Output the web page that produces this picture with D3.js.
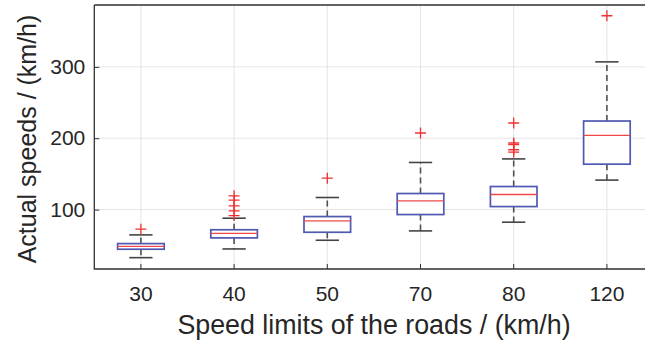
<!DOCTYPE html>
<html>
<head>
<meta charset="utf-8">
<script src="https://cdn.jsdelivr.net/npm/d3@7"></script>
<style>
  html, body { margin: 0; padding: 0; background: #fff; overflow: hidden; }
  svg { display: block; font-family: "Liberation Sans", Arial, Helvetica, sans-serif; }
</style>
</head>
<body>
<svg id="chart" width="645" height="341"></svg>
<script>
// Speed limit groups (km/h)
const categories = ["30", "40", "50", "70", "80", "120"];
// Box statistics of the actual speeds (km/h) per group
const whiskerLow  = [32.6, 44.8, 57.0, 70.1, 82.3, 141.3];
const quartile1   = [44.4, 60.3, 68.2, 93.0, 104.2, 163.6];
const medians     = [48.4, 66.6, 84.1, 112.2, 121.1, 204.0];
const quartile3   = [52.3, 71.7, 90.2, 122.5, 132.3, 224.1];
const whiskerHigh = [64.5, 87.9, 116.9, 166.0, 171.0, 307.0];
// Outlying observations per group
const outliers = [
  [72.5],
  [91.6, 98.2, 105.2, 113.2, 119.2],
  [144.0],
  [207.3],
  [180.6, 183.8, 190.9, 193.3, 221.3],
  [371.6]
];
const yTicks = [100, 200, 300];
const yDomain = [16.7, 386.7];

const svg = d3.select("#chart");
const margin = { left: 94.3, top: 5, right: 653.5, bottom: 269 };

const x = d3.scaleBand()
  .domain(categories)
  .range([margin.left, margin.right])
  .paddingInner(0).paddingOuter(0);
const y = d3.scaleLinear().domain(yDomain).range([margin.bottom, margin.top]);

const bw = x.bandwidth();
const cx = c => x(c) + bw / 2;

// grid
const grid = svg.append("g").attr("stroke", "#e4e4e4").attr("stroke-width", 1);
yTicks.forEach(t => {
  grid.append("line").attr("x1", margin.left).attr("x2", margin.right)
    .attr("y1", y(t)).attr("y2", y(t));
});
categories.forEach(c => {
  grid.append("line").attr("x1", cx(c)).attr("x2", cx(c))
    .attr("y1", margin.top).attr("y2", margin.bottom);
});

// axes
const xAxis = d3.axisBottom(x).tickSize(-5).tickPadding(17);
const yAxis = d3.axisLeft(y).tickValues(yTicks).tickSize(-5).tickPadding(9);

const gx = svg.append("g").attr("transform", `translate(0,${margin.bottom})`).call(xAxis);
const gy = svg.append("g").attr("transform", `translate(${margin.left},0)`).call(yAxis);
[gx, gy].forEach(g => {
  g.select(".domain").remove();
  g.selectAll(".tick line").attr("stroke", "#333").attr("stroke-width", 1);
  g.selectAll(".tick text").attr("fill", "#262626").attr("font-size", 21)
    .attr("font-family", "Liberation Sans, Arial, sans-serif");
});

// frame: left, bottom and top edges
svg.append("path")
  .attr("d", `M${margin.left},${margin.top}H${margin.right}M${margin.left},${margin.top}V${margin.bottom}H${margin.right}`)
  .attr("fill", "none").attr("stroke", "#303030").attr("stroke-width", 1.3);

// boxes
const boxW = bw * 0.5;
const capW = boxW * 0.5;
const boxes = svg.append("g");
categories.forEach((c, i) => {
  const g = boxes.append("g");
  const xc = cx(c);
  // whiskers
  g.append("line").attr("x1", xc).attr("x2", xc)
    .attr("y1", y(quartile3[i])).attr("y2", y(whiskerHigh[i]))
    .attr("stroke", "#505050").attr("stroke-width", 1.6).attr("stroke-dasharray", "6,4");
  g.append("line").attr("x1", xc).attr("x2", xc)
    .attr("y1", y(quartile1[i])).attr("y2", y(whiskerLow[i]))
    .attr("stroke", "#505050").attr("stroke-width", 1.6).attr("stroke-dasharray", "6,4");
  // caps
  [whiskerHigh[i], whiskerLow[i]].forEach(v => {
    g.append("line").attr("x1", xc - capW / 2).attr("x2", xc + capW / 2)
      .attr("y1", y(v)).attr("y2", y(v))
      .attr("stroke", "#444").attr("stroke-width", 1.6);
  });
  // box
  g.append("rect")
    .attr("x", xc - boxW / 2).attr("width", boxW)
    .attr("y", y(quartile3[i])).attr("height", y(quartile1[i]) - y(quartile3[i]))
    .attr("fill", "#fff").attr("stroke", "#4f58b2").attr("stroke-width", 1.7);
  // median
  g.append("line").attr("x1", xc - boxW / 2).attr("x2", xc + boxW / 2)
    .attr("y1", y(medians[i])).attr("y2", y(medians[i]))
    .attr("stroke", "#f04848").attr("stroke-width", 1.4);
  // outliers
  outliers[i].forEach(v => {
    const yy = y(v);
    g.append("path")
      .attr("d", `M${xc - 5.5},${yy}H${xc + 5.5}M${xc},${yy - 5.5}V${yy + 5.5}`)
      .attr("stroke", "#f03030").attr("stroke-width", 1.3).attr("fill", "none");
  });
});

// axis titles
svg.append("text")
  .attr("x", 374).attr("y", 334)
  .attr("text-anchor", "middle").attr("font-size", 26.8).attr("fill", "#262626")
  .text("Speed limits of the roads / (km/h)");

svg.append("text")
  .attr("transform", `translate(36,${(margin.top + margin.bottom) / 2 + 2}) rotate(-90)`)
  .attr("text-anchor", "middle").attr("font-size", 25).attr("fill", "#262626")
  .text("Actual speeds / (km/h)");
</script>
</body>
</html>
